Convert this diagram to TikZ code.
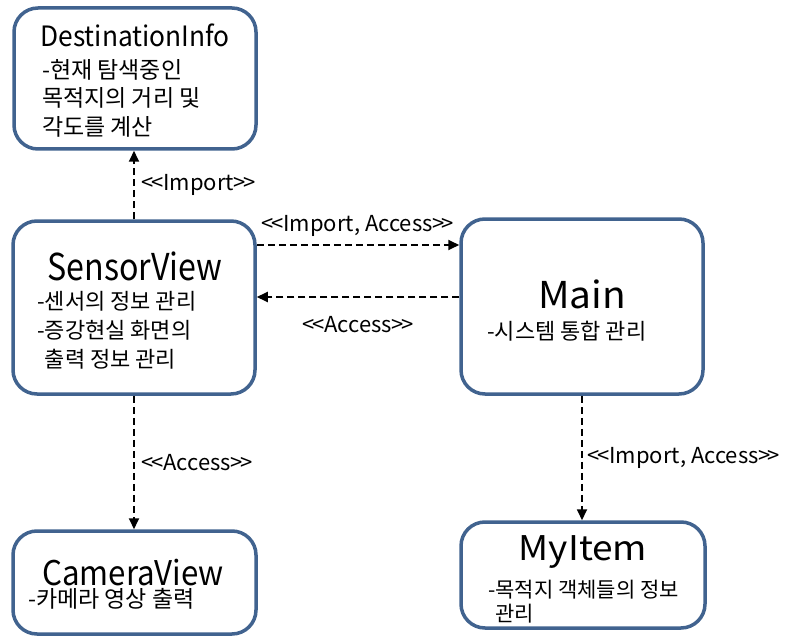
\documentclass[tikz,border=0pt]{standalone}
\usepackage{fontspec}
\setmainfont{Noto Sans CJK KR}
\usetikzlibrary{arrows.meta}
\definecolor{boxblue}{RGB}{65,99,143}
% stereotype brackets, kept as two separate angle signs
\newcommand\stOpen{<\kern-3pt<}
\newcommand\stClose{>\kern-3pt>}

\begin{document}
\begin{tikzpicture}[x=1pt,y=-1pt,
  box/.style={draw=boxblue, line width=3.5pt, rounded corners=24pt, fill=white, inner sep=0pt},
  title/.style={font=\fontsize{#1}{#1}\selectfont, inner sep=0pt, anchor=base},
  body/.style 2 args={font=\fontsize{#1}{#2}\selectfont, align=left, inner sep=0pt, anchor=north west},
  dep/.style={dash pattern=on 7pt off 4pt, line width=1.8pt, -{Triangle[length=11pt,width=10pt]}},
  lbl/.style={font=\fontsize{22}{24}\selectfont, inner sep=0pt}]
\useasboundingbox (0,0) rectangle (789,639);

% class boxes
\node[box, minimum width=242pt, minimum height=141pt] (dest)   at (135,78.5)  {};
\node[box, minimum width=242pt, minimum height=173pt] (sensor) at (134,307.5) {};
\node[box, minimum width=242pt, minimum height=175pt] (main)   at (582,306.5) {};
\node[box, minimum width=243pt, minimum height=103pt] (camera) at (134.5,582.5) {};
\node[box, minimum width=244pt, minimum height=106pt] (myitem) at (583,575)   {};

% titles
\node[title=28] (destT)   at (135,47)  {\scalebox{0.94}[1]{DestinationInfo}};
\node[title=37] (sensorT) at (135,280) {\scalebox{0.87}[1]{SensorView}};
\node[title=37] (mainT)   at (582,308) {\scalebox{1.05}[1]{Main}};
\node[title=34] (cameraT) at (133,585) {\scalebox{0.92}[1]{CameraView}};
\node[title=34] (myitemT) at (583,560) {\scalebox{1.09}[1]{MyItem}};

% descriptions
\node[body={23}{28.5}] (destB) at (42,59)
  {-현재 탐색중인\\목적지의 거리 및\\각도를 계산};
\node[body={22}{29}] (sensorB) at (37,291)
  {-센서의 정보 관리\\-증강현실 화면의\\\phantom{-}출력 정보 관리};
\node[body={22}{28}] (mainB) at (487,321) {-시스템 통합 관리};
\node[body={23}{28}] (cameraB) at (28,588) {-카메라 영상 출력};
\node[body={21}{24}] (myitemB) at (488,580)
  {-목적지 객체들의 정보\\\phantom{-}관리};

% dependencies
\draw[dep] (sensor.north) -- node[lbl, right=7pt] (l1) {\stOpen Import\stClose} (sensor.north |- dest.south);
\draw[dep] ([yshift=62.5pt]sensor.east) -- node[lbl, above=8pt] (l2) {\stOpen Import, Access\stClose} ([yshift=62.5pt]sensor.east -| main.west);
\draw[dep] ([yshift=9.5pt]main.west) -- node[lbl, below=18pt] (l3) {\stOpen Access\stClose} ([yshift=9.5pt]main.west -| sensor.east);
\draw[dep] (sensor.south) -- node[lbl, right=7pt] (l4) {\stOpen Access\stClose} (sensor.south |- camera.north);
\draw[dep] (main.south) -- node[lbl, right=5pt] (l5) {\stOpen Import, Access\stClose} (main.south |- myitem.north);
\end{tikzpicture}
\end{document}
